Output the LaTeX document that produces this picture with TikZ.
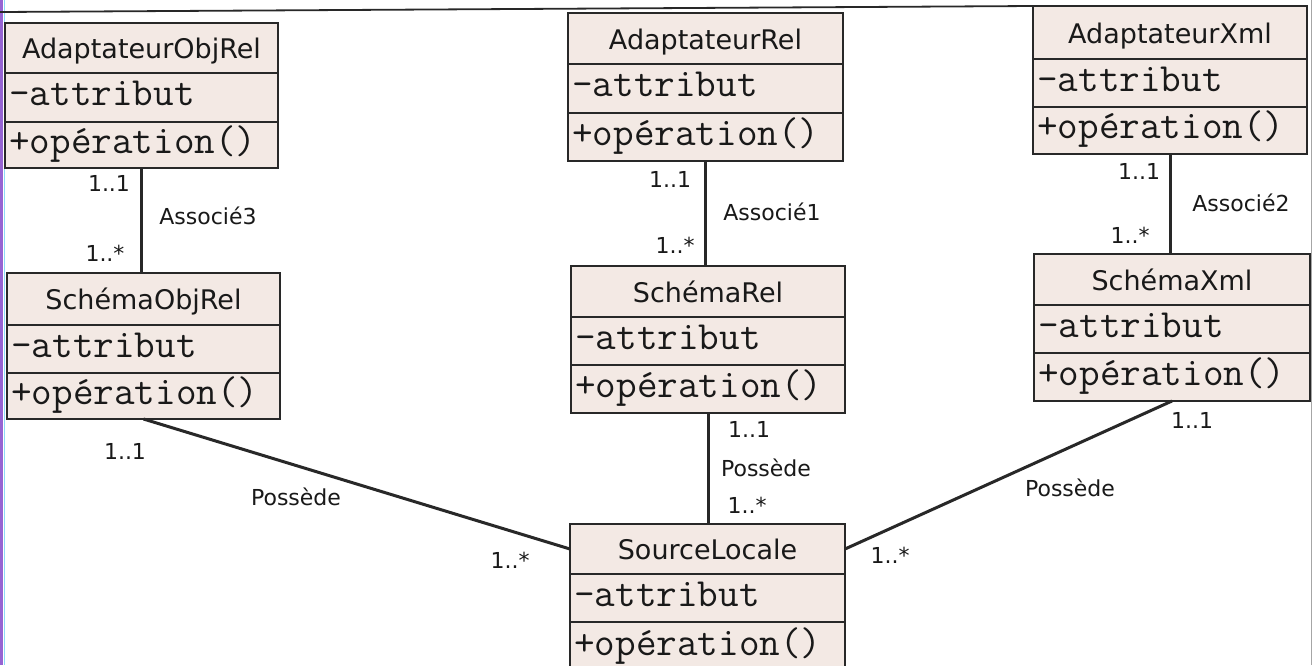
\documentclass[tikz,border=0pt]{standalone}
\usepackage{fontspec}
\newfontfamily\uisans{DejaVu Sans}
\usetikzlibrary{calc}

\definecolor{classfill}{RGB}{243,233,228}
\definecolor{inkline}{RGB}{40,40,40}
\definecolor{inktext}{RGB}{25,25,25}
\definecolor{scanedge}{RGB}{150,100,210}

\tikzset{
  classbox/.style={draw=inkline, fill=classfill, line width=2pt, inner sep=0pt, outer sep=0pt},
  classrule/.style={draw=inkline, line width=1.8pt},
  titletext/.style={inner sep=0pt, text=inktext, font=\uisans\fontsize{27}{30}\selectfont, anchor=base},
  membertext/.style={inner sep=0pt, text=inktext, font=\ttfamily\fontsize{40}{44}\selectfont, anchor=base west},
  assoc/.style={draw=inkline, line width=3pt},
  multlabel/.style={inner sep=0pt, text=inktext, font=\uisans\fontsize{22}{24}\selectfont},
}

% #1 name, #2 left, #3 top, #4 right, #5 first rule, #6 second rule, #7 bottom, #8 class name
\newcommand\umlclass[8]{%
  \node[classbox, anchor=north west, minimum width={#4-#2}, minimum height={#7-#3}] (#1) at (#2,#3) {};
  \draw[classrule] (#2,#5) -- (#4,#5);
  \draw[classrule] (#2,#6) -- (#4,#6);
  \coordinate (#1-h) at ({(#2+#4)/2},{(#3+#5)/2});
  \node[titletext] (#1-t) at ({(#2+#4)/2},{(#3+#5)/2+10.5}) {#8};
  \node[membertext] (#1-a) at ({#2+4},{(#5+#6)/2+8}) {-attribut};
  \node[membertext] (#1-o) at ({#2+4},{(#6+#7)/2+8}) {+opération()};
}

\begin{document}
\begin{tikzpicture}[x=1pt, y=-1pt]
  \useasboundingbox (0,0) rectangle (1313,665);
  \clip (0,0) rectangle (1313,665);
  \fill[white] (0,0) rectangle (1313,665);

  % page edges
  \fill[scanedge] (0,0) rectangle (3,665);
  \draw[cyan!45, line width=1pt] (4.5,0) -- (4.5,665);
  \draw[black!35, line width=1pt] (1311.5,0) -- (1311.5,665);
  \draw[inkline, line width=1.8pt] (0,12) -- (1033,6);

  % classes
  \umlclass{aor}{5}{23}{278}{73}{122}{168}{AdaptateurObjRel}
  \umlclass{ar}{568}{13}{843}{64}{113}{161}{AdaptateurRel}
  \umlclass{ax}{1033}{6}{1307}{59}{107}{154}{AdaptateurXml}
  \umlclass{sor}{7}{273}{280}{325}{373}{419}{SchémaObjRel}
  \umlclass{sr}{571}{266}{845}{317}{365}{413}{SchémaRel}
  \umlclass{sx}{1034}{254}{1310}{305}{353}{401}{SchémaXml}
  \umlclass{sl}{570}{524}{845}{574}{622}{672}{SourceLocale}

  % associations
  \draw[assoc] (aor.south) -- (aor.south |- sor.north);
  \draw[assoc] (ar.south) -- (ar.south |- sr.north);
  \draw[assoc] (ax.south) -- (ax.south |- sx.north);
  \draw[assoc] (sor.south) -- (sl-h -| sl.west);
  \draw[assoc] (sr.south) -- (sr.south |- sl.north);
  \draw[assoc] (sx.south) -- (sl-h -| sl.east);

  % association names and multiplicities
  \node[multlabel] (m1) at (109,183) {1..1};
  \node[multlabel] (n3) at (208,216) {Associé3};
  \node[multlabel] (m2) at (105,253) {1..*};
  \node[multlabel] (m3) at (125,451) {1..1};
  \node[multlabel] (p1) at (296,497) {Possède};
  \node[multlabel] (m4) at (510,560) {1..*};

  \node[multlabel] (m5) at (670,179) {1..1};
  \node[multlabel] (n1) at (772,212) {Associé1};
  \node[multlabel] (m6) at (675,245) {1..*};
  \node[multlabel] (m7) at (749,429) {1..1};
  \node[multlabel] (p2) at (766,468) {Possède};
  \node[multlabel] (m8) at (747,505) {1..*};

  \node[multlabel] (m9) at (1139,171) {1..1};
  \node[multlabel] (n2) at (1241,203) {Associé2};
  \node[multlabel] (m10) at (1130,235) {1..*};
  \node[multlabel] (m11) at (1192,420) {1..1};
  \node[multlabel] (p3) at (1070,488) {Possède};
  \node[multlabel] (m12) at (890,555) {1..*};
\end{tikzpicture}
\end{document}
